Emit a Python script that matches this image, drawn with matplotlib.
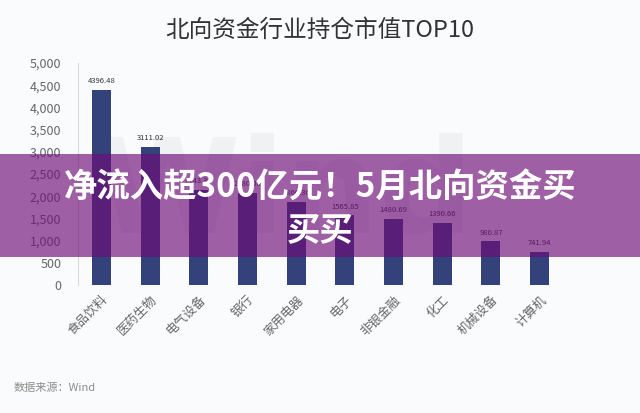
import matplotlib
matplotlib.use("Agg")
import matplotlib.pyplot as plt
from matplotlib.patches import Rectangle
from matplotlib.ticker import FuncFormatter

plt.rcParams['font.family'] = ['Noto Sans CJK SC', 'DejaVu Sans']

categories = ["食品饮料", "医药生物", "电气设备", "银行", "家用电器",
              "电子", "非银金融", "化工", "机械设备", "计算机"]
values = [4396.48, 3111.02, 2143.36, 2080.00, 1866.36,
          1565.85, 1480.69, 1390.66, 980.87, 741.94]
yticks = [0, 500, 1000, 1500, 2000, 2500, 3000, 3500, 4000, 4500, 5000]

title = "北向资金行业持仓市值TOP10"
source = "数据来源：Wind"
banner = "净流入超300亿元！5月北向资金买\n买买"

W, H = 640, 413
fig = plt.figure(figsize=(W / 100, H / 100), dpi=100)
fig.patch.set_facecolor("#FAFBFC")

left, right = 78 / W, 620 / W
bottom, top = (H - 285) / H, (H - 63) / H
ax = fig.add_axes([left, bottom, right - left, top - bottom])
ax.set_facecolor("none")

# faint watermark (behind bars)
ax.text(0.38, 0.40, "Wind", transform=ax.transAxes, fontsize=95, fontweight="bold",
        color="#F0F1F3", ha="center", va="center", zorder=1, family=["DejaVu Sans"])

x = list(range(len(categories)))
ax.bar(x, values, width=0.39, color="#33427A", zorder=3)
for xi, v in zip(x, values):
    ax.text(xi, v + 110, f"{v:.2f}", ha="center", va="bottom", fontsize=5.5,
            color="#333333", zorder=4)

ax.set_xlim(-0.48, 10.65)
ax.set_ylim(0, 5000)
ax.set_yticks(yticks)
ax.yaxis.set_major_formatter(FuncFormatter(lambda v, p: f"{int(v):,}"))
ax.set_xticks(x)
ax.set_xticklabels(categories, rotation=45, ha="right", rotation_mode="anchor",
                   fontsize=9, color="#666666")
ax.tick_params(axis="y", labelsize=9, labelcolor="#666666", length=0, pad=12)
ax.tick_params(axis="x", length=0, pad=6)
for s in ["top", "right", "bottom"]:
    ax.spines[s].set_visible(False)
ax.spines["left"].set_color("#D9D9D9")
ax.spines["left"].set_linewidth(0.8)

fig.text(0.5, (H - 30) / H, title, ha="center", va="center", fontsize=17,
         color="#333333")
fig.text(14 / W, (H - 388) / H, source, ha="left", va="center", fontsize=8,
         color="#8C8C8C")

# purple banner overlay
fig.patches.append(Rectangle((0, (H - 257) / H), 1, 103 / H, transform=fig.transFigure,
                             facecolor="#6E0E78", alpha=0.66, edgecolor="none",
                             zorder=10))
fig.text(0.5, (H - 209) / H, banner, ha="center", va="center", fontsize=24,
         fontweight="bold", color="white", zorder=11, linespacing=1.4)

fig.savefig("out.png", dpi=100, facecolor=fig.get_facecolor())
